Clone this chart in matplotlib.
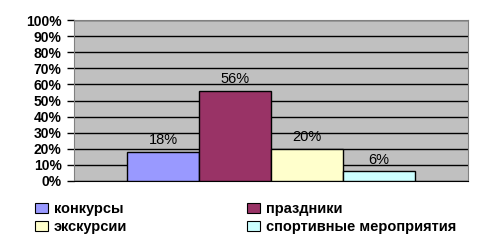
import matplotlib.pyplot as plt
from matplotlib.patches import Patch

# данные
categories = ["конкурсы", "праздники", "экскурсии", "спортивные мероприятия"]
values = [18, 56, 20, 6]
colors = ["#9999FF", "#993366", "#FFFFCC", "#CCFFFF"]
yticks = list(range(0, 101, 10))

plt.rcParams['font.family'] = ['Liberation Sans', 'DejaVu Sans']

fig = plt.figure(figsize=(4.86, 2.4), dpi=100)
ax = fig.add_axes([74/486, 1 - 181/240, 394/486, 161/240])

x = range(len(values))
ax.bar(x, values, width=1.0, color=colors, edgecolor="black", linewidth=1, zorder=3)

for i, v in zip(x, values):
    ax.text(i, v + 3, f"{v}%", ha="center", va="bottom", fontsize=10.5, zorder=4)

ax.set_facecolor("#C0C0C0")
ax.set_ylim(0, 100)
ax.set_xlim(-1.236, 4.236)
ax.set_yticks(yticks)
ax.set_yticklabels([f"{t}%" for t in yticks], fontsize=10, fontweight="bold")
ax.set_xticks([])
ax.yaxis.grid(True, color="black", linewidth=1, zorder=1)
ax.tick_params(axis="y", length=5, width=1, color="black", pad=4)

for s in ["top", "right"]:
    ax.spines[s].set_color("#808080")
ax.spines["left"].set_color("#808080")
ax.spines["bottom"].set_color("black")

# легенда: порядок по строкам, как в оригинале
order = [0, 2, 1, 3]
handles = [Patch(facecolor=colors[i], edgecolor="black", linewidth=0.8) for i in order]
labels = [categories[i] for i in order]
fig.legend(handles, labels, loc="upper left", bbox_to_anchor=(22/486, 1 - 189/240),
           ncol=2, frameon=False, handlelength=0.9, handleheight=0.7,
           handletextpad=0.4, columnspacing=8.2, labelspacing=0.25,
           prop={"weight": "bold", "size": 10.5})

fig.savefig("out.png", dpi=100)
